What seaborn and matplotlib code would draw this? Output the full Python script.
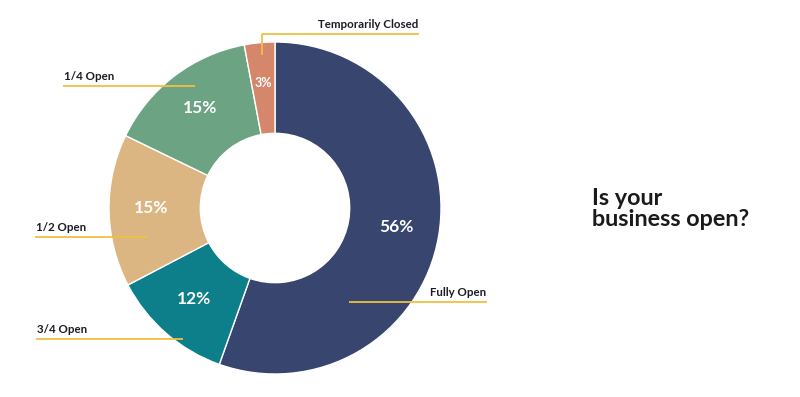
import matplotlib
matplotlib.use("Agg")
import matplotlib.pyplot as plt
import seaborn as sns
import numpy as np

categories = ["Fully Open", "3/4 Open", "1/2 Open", "1/4 Open", "Temporarily Closed"]
values = [56, 12, 15, 15, 3]
colors = ["#37456f", "#0d7f8a", "#dbb683", "#6ba383", "#d4876b"]
title = "Is your\nbusiness open?"

sns.set_theme(style="white")
plt.rcParams['font.family'] = ['Lato', 'DejaVu Sans']

W, H = 800, 397
fig = plt.figure(figsize=(8, 3.97), dpi=100)
ax = fig.add_axes([0, 0, 1, 1])

cx, cy = 275, H - 208
R = 166
wedges, _ = ax.pie(values, colors=colors, startangle=90, counterclock=False,
                   center=(cx, cy), radius=R,
                   wedgeprops=dict(width=R * 0.55, edgecolor="white", linewidth=1))
ax.set_xlim(0, W)
ax.set_ylim(0, H)
ax.set_aspect("equal")
ax.axis("off")

for w, v in zip(wedges, values):
    th = np.deg2rad((w.theta1 + w.theta2) / 2)
    r = R * 0.745
    fs = 9 if v < 5 else 12.5
    ax.text(cx + r * np.cos(th), cy + r * np.sin(th) + 2, f"{v}%", color="white",
            fontsize=fs, fontweight="bold", ha="center", va="center")

gold = "#f0c040"
def py(y):
    return H - y

leaders = {
    "Fully Open": (349, 487, 302, "right"),
    "3/4 Open": (36, 183, 339, "left"),
    "1/2 Open": (35, 148, 237, "left"),
    "1/4 Open": (63, 195, 86, "left"),
    "Temporarily Closed": (262, 419, 34, "right"),
}
for name in categories:
    x0, x1, y, side = leaders[name]
    ax.plot([x0, x1], [py(y), py(y)], color=gold, lw=1.3, solid_capstyle="butt")
    if name == "Temporarily Closed":
        ax.plot([x0, x0], [py(y), py(55)], color=gold, lw=1.3, solid_capstyle="butt")
    tx = x0 + 1 if side == "left" else x1 - 1
    ax.text(tx, py(y - 4), name, ha=side, va="bottom", fontsize=8.3,
            fontweight="bold", color="#1c1c24")

ax.text(592, py(188), title, ha="left", va="top", fontsize=16.8,
        fontweight="bold", color="#1a1a1a", linespacing=1.0)

fig.savefig("out.png", dpi=100, facecolor="white")
